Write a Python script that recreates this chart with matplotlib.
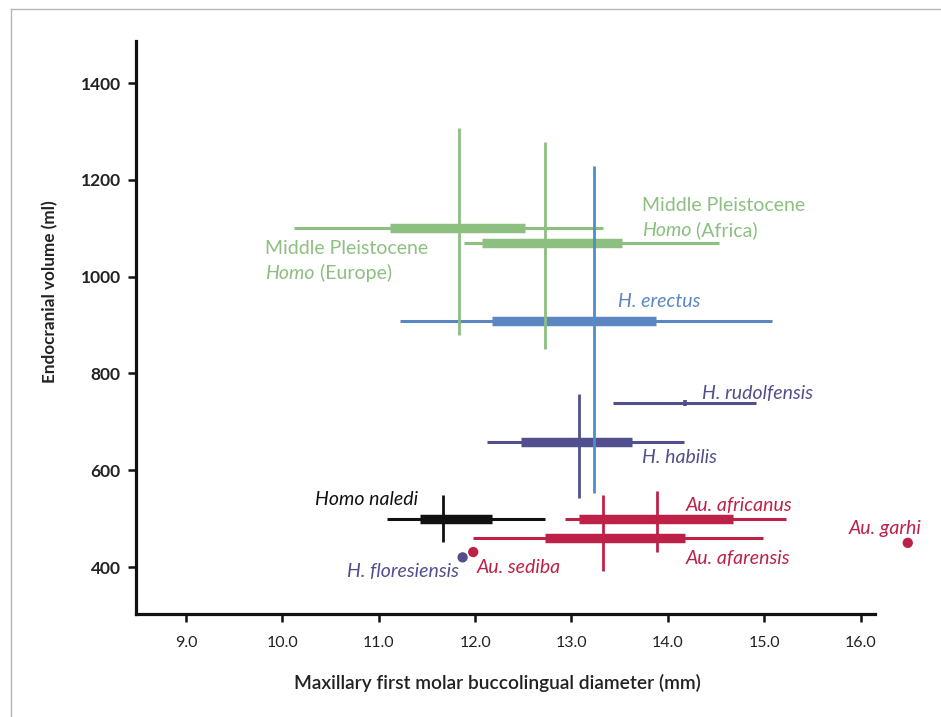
import numpy as np
import matplotlib
matplotlib.use("Agg")
import matplotlib.pyplot as plt
from matplotlib.lines import Line2D

# ---------------- data ----------------
species = ["MP Homo (Europe)", "MP Homo (Africa)", "H. erectus", "H. habilis",
           "H. rudolfensis", "Homo naledi", "Au. africanus", "Au. afarensis"]
x_center = [11.83, 12.73, 13.23, 13.08, 14.18, 11.67, 13.89, 13.33]
y_center = [1101, 1069, 909, 659, 739, 500, 500, 460]
x_min = [10.12, 11.88, 11.22, 12.12, 13.43, 11.08, 12.93, 11.98]
x_max = [13.33, 14.53, 15.08, 14.17, 14.92, 12.72, 15.23, 14.99]
x_q_lo = [11.12, 12.07, 12.18, 12.48, np.nan, 11.43, 13.08, 12.73]
x_q_hi = [12.52, 13.52, 13.88, 13.63, np.nan, 12.18, 14.68, 14.18]
y_min = [880, 850, 552, 542, 732, 451, 431, 391]
y_max = [1308, 1278, 1228, 758, 746, 548, 558, 549]

point_names = ["H. floresiensis", "Au. sediba", "Au. garhi"]
point_x = [11.87, 11.98, 16.49]
point_y = [420, 431, 450]

x_ticks = [9.0, 10.0, 11.0, 12.0, 13.0, 14.0, 15.0, 16.0]
y_ticks = [400, 600, 800, 1000, 1200, 1400]

# ---------------- style ----------------
GREEN = "#8cbf80"
BLUE_H = "#5a86c1"
BLUE_V = "#4b8fc9"
PURPLE = "#524f8f"
RED = "#be2147"
BLACK = "#111111"

range_colors = [(GREEN, GREEN), (GREEN, GREEN), (BLUE_H, BLUE_V), (PURPLE, PURPLE),
                (PURPLE, PURPLE), (BLACK, BLACK), (RED, RED), (RED, RED)]
point_colors = [PURPLE, RED, RED]
draw_order = [2, 0, 1, 3, 4, 5, 7, 6]

plt.rcParams["font.family"] = ["Lato", "DejaVu Sans"]

fig = plt.figure(figsize=(9.41, 7.17), dpi=100)
ax = fig.add_axes([136 / 941, 1 - 614 / 717, (875 - 136) / 941, (614 - 41) / 717])

for i in draw_order:
    ch, cv = range_colors[i]
    ax.plot([x_min[i], x_max[i]], [y_center[i], y_center[i]], color=ch, lw=2.2,
            solid_capstyle="butt", zorder=2)
    if not np.isnan(x_q_lo[i]):
        ax.plot([x_q_lo[i], x_q_hi[i]], [y_center[i], y_center[i]], color=ch, lw=6.8,
                solid_capstyle="butt", zorder=2)
    vlw = 2.6 if i == 4 else 2.0
    ax.plot([x_center[i], x_center[i]], [y_min[i], y_max[i]], color=cv, lw=vlw,
            solid_capstyle="butt", zorder=3)

ax.scatter(point_x, point_y, s=55, c=point_colors, zorder=4, linewidths=0,
           clip_on=False)

ax.set_xlim(8.48, 16.15)
ax.set_ylim(303, 1487)
ax.set_xticks(x_ticks)
ax.set_xticklabels([f"{v:.1f}" for v in x_ticks], fontsize=11.5, color="#222222")
ax.set_yticks(y_ticks)
ax.set_yticklabels([str(v) for v in y_ticks], fontsize=12.5, fontweight="bold",
                   color="#222222")

for s in ["top", "right"]:
    ax.spines[s].set_visible(False)
for s in ["left", "bottom"]:
    ax.spines[s].set_linewidth(2.3)
    ax.spines[s].set_color("#111111")
ax.tick_params(axis="both", direction="out", length=6, width=1.8, color="#111111")
ax.tick_params(axis="y", pad=5)
ax.tick_params(axis="x", pad=10)

ax.set_xlabel("Maxillary first molar buccolingual diameter (mm)", fontsize=13.8,
              fontweight="semibold", color="#222222", va="center")
ax.xaxis.set_label_coords((497 - 136) / 739, (614 - 683) / 573)
ax.set_ylabel("Endocranial volume (ml)", fontsize=12.3, fontweight="bold",
              color="#222222", va="center")
ax.yaxis.set_label_coords((50 - 136) / 739, (614 - 292) / 573)

# ---------------- labels ----------------
LFS = 14


def two_line_label(x, y1, y2, line1, rest, color):
    ax.text(x, y1, line1, color=color, fontsize=LFS, ha="left", va="center_baseline")
    t = ax.text(x, y2, "Homo", color=color, fontsize=LFS, style="italic",
                ha="left", va="center_baseline")
    ax.annotate(rest, xy=(1, 0), xycoords=t, color=color, fontsize=LFS,
                ha="left", va="bottom")


two_line_label(9.82, 1061, 1009, "Middle Pleistocene", " (Europe)", GREEN)
two_line_label(13.73, 1150, 1099, "Middle Pleistocene", " (Africa)", GREEN)

labels = [
    ("H. erectus", 13.48, 951, BLUE_H, "left"),
    ("H. rudolfensis", 14.35, 761, PURPLE, "left"),
    ("H. habilis", 13.73, 630, PURPLE, "left"),
    ("Homo naledi", 11.41, 542, BLACK, "right"),
    ("H. floresiensis", 10.67, 393, PURPLE, "left"),
    ("Au. sediba", 12.02, 403, RED, "left"),
    ("Au. africanus", 14.18, 531, RED, "left"),
    ("Au. afarensis", 14.18, 420, RED, "left"),
    ("Au. garhi", 15.88, 482, RED, "left"),
]
for txt, lx, ly, col, ha in labels:
    ax.text(lx, ly, txt, color=col, fontsize=LFS, style="italic", ha=ha,
            va="center_baseline")

# thin frame lines of the figure panel
fig.add_artist(Line2D([11 / 941, 11 / 941], [0, 1 - 9 / 717], color="#b5b5b5", lw=1,
                      transform=fig.transFigure))
fig.add_artist(Line2D([11 / 941, 1], [1 - 9 / 717, 1 - 9 / 717], color="#b5b5b5", lw=1,
                      transform=fig.transFigure))

fig.savefig("out.png", dpi=100, facecolor="white")
